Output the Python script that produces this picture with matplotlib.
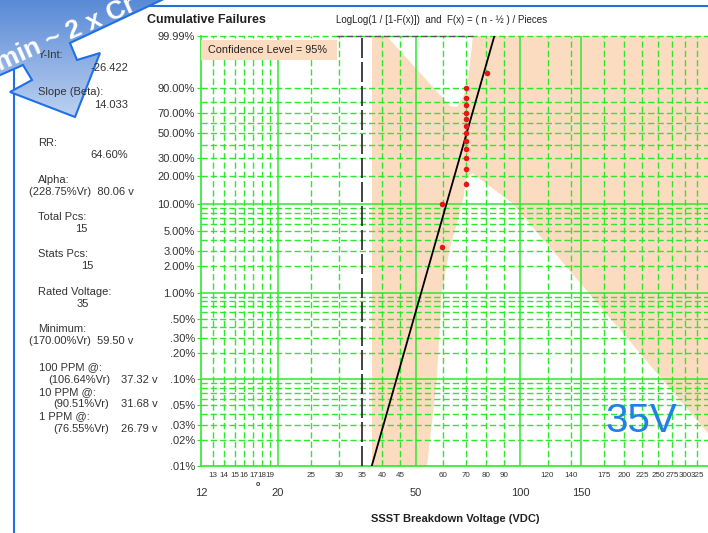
import numpy as np
import matplotlib
matplotlib.use('Agg')
import matplotlib.pyplot as plt
from matplotlib.patches import Polygon, Rectangle
from matplotlib.lines import Line2D
from matplotlib.ticker import NullLocator
from matplotlib.colors import LinearSegmentedColormap

plt.rcParams['font.family'] = ['Liberation Sans', 'DejaVu Sans']

W, H = 708, 533

# failures: breakdown voltage and plotting position F = (n - 1/2) / 15, in %
fail_volts = [59.5, 59.5, 70, 70, 70, 70, 70, 70, 70, 70, 70, 70, 70, 70, 80.1]
fail_pct = [3.33, 10.0, 16.67, 23.33, 30.0, 36.67, 43.33, 50.0, 56.67,
            63.33, 70.0, 76.67, 83.33, 90.0, 96.67]

# fitted Weibull line
fit_volts = [37.32, 84.3]
fit_pct = [0.01, 99.99]

rated_v = 35

# 95% confidence band
band_left_v = 37.3
upper_white_v = [41.2, 62.8, 65.8, 68.4, 70.2, 71.7, 73.1]
upper_white_pct = [99.99, 76.1, 75.2, 83.8, 90.7, 98.9, 99.99]
lower_white_v = [53.9, 57.5, 59.4, 62.8, 66.2, 68.9, 69.8, 72.7, 81.9, 94.8, 420]
lower_white_pct = [0.01, 0.1, 1.0, 3.3, 6.69, 12.6, 18.2, 21.4, 15.5, 10.3, 0.01]

ytick_pct = [99.99, 90, 70, 50, 30, 20, 10, 5, 3, 2, 1, 0.5, 0.3, 0.2, 0.1,
             0.05, 0.03, 0.02, 0.01]
ytick_labels = ['99.99%', '90.00%', '70.00%', '50.00%', '30.00%', '20.00%',
                '10.00%', '5.00%', '3.00%', '2.00%', '1.00%', '.50%', '.30%',
                '.20%', '.10%', '.05%', '.03%', '.02%', '.01%']
ygrid_solid = [10, 1, 0.1]
ygrid_dash = [90, 80, 70, 60, 50, 40, 30, 20, 9, 8, 7, 6, 5, 4, 3, 2,
              0.9, 0.8, 0.7, 0.6, 0.5, 0.4, 0.3, 0.2,
              0.09, 0.08, 0.07, 0.06, 0.05, 0.04, 0.03, 0.02]

xmajor = [12, 20, 50, 100, 150]
xminor = [13, 14, 15, 16, 17, 18, 19, 25, 30, 35, 40, 45, 60, 70, 80, 90,
          120, 140, 175, 200, 225, 250, 275, 300, 325]
xgrid_solid = [20, 50, 100, 150]
xgrid_dash = [13, 14, 15, 16, 17, 18, 19, 25, 30, 40, 45, 60, 70, 80, 90,
              120, 140, 175, 200, 225, 250, 275, 300, 325, 350, 375]

stats = [
    ('Y-Int:', 38, 55, 'left'), ('-26.422', 128, 68, 'right'),
    ('Slope (Beta):', 38, 92, 'left'), ('14.033', 128, 105, 'right'),
    ('RR:', 38, 143, 'left'), ('64.60%', 128, 155, 'right'),
    ('Alpha:', 38, 180, 'left'), ('(228.75%Vr)  80.06 v', 29, 192, 'left'),
    ('Total Pcs:', 38, 217, 'left'), ('15', 81, 229, 'center'),
    ('Stats Pcs:', 38, 254, 'left'), ('15', 87, 266, 'center'),
    ('Rated Voltage:', 38, 292, 'left'), ('35', 83, 304, 'center'),
    ('Minimum:', 38, 329, 'left'), ('(170.00%Vr)  59.50 v', 29, 341, 'left'),
    ('100 PPM @:', 39, 367, 'left'), ('(106.64%Vr)', 48, 380, 'left'),
    ('37.32 v', 121, 380, 'left'),
    ('10 PPM @:', 39, 392, 'left'), ('(90.51%Vr)', 53, 404, 'left'),
    ('31.68 v', 121, 404, 'left'),
    ('1 PPM @:', 39, 416, 'left'), ('(76.55%Vr)', 53, 429, 'left'),
    ('26.79 v', 121, 429, 'left'),
]

green = '#2ee82e'
peach = '#fcdcc0'
dash = (0, (4.5, 2.2))


def fx(x):
    return x / W


def fy(y):
    return 1 - y / H


def fwd(p):
    p = np.clip(np.asarray(p, dtype=float), 1e-9, 100 - 1e-9)
    return np.log(-np.log(1 - p / 100))


def inv(w):
    return 100 * (1 - np.exp(-np.exp(w)))


fig = plt.figure(figsize=(W / 100, H / 100), dpi=100)
x_left, x_right = 201, 201 + (np.log10(400) - np.log10(12)) * 346.5
ax = fig.add_axes([fx(x_left), fy(466), (x_right - x_left) / W, 430 / H])
ax.set_xscale('log')
ax.set_yscale('function', functions=(fwd, inv))
ax.set_xlim(12, 400)
ax.set_ylim(0.01, 99.99)

# confidence band: shade right of the left bound, then cut out the white parts
ax.axvspan(band_left_v, 1000, color=peach, lw=0, zorder=0.5)
ax.fill(upper_white_v, upper_white_pct, color='white', lw=0, zorder=0.6)
ax.fill(lower_white_v, lower_white_pct, color='white', lw=0, zorder=0.6)

for v in xgrid_solid:
    ax.axvline(v, color=green, lw=1.1, zorder=2)
for v in xgrid_dash:
    ax.axvline(v, color=green, lw=1.0, ls=dash, zorder=2)
for p in ygrid_solid:
    ax.axhline(p, color=green, lw=1.1, zorder=2)
for p in ygrid_dash:
    ax.axhline(p, color=green, lw=1.0, ls=dash, zorder=2)
ax.axhline(99.99, color=green, lw=1.0, ls=dash, zorder=2, clip_on=False)
ax.plot([29.6, 73], [99.99, 99.99], color='#555555', lw=1.0, ls=dash,
        zorder=2.5, clip_on=False)

ax.axvline(rated_v, color='#222222', lw=1.2, ls=(0, (12, 2.4)), zorder=3)
ax.plot(fit_volts, fit_pct, color='black', lw=1.3, zorder=4)
ax.plot(fail_volts, fail_pct, 'o', color='#e8141a', ms=4, mec='none', zorder=5)

ax.set_yticks(ytick_pct, labels=ytick_labels)
ax.yaxis.set_minor_locator(NullLocator())
ax.tick_params(axis='y', length=3, color=green, labelsize=8, pad=1.5,
               labelcolor='#333333')
ax.set_xticks(xmajor, labels=[str(v) for v in xmajor])
ax.set_xticks(xminor, labels=[str(v) for v in xminor], minor=True)
ax.tick_params(axis='x', which='major', length=0, pad=16, labelsize=8,
               labelcolor='#333333')
ax.tick_params(axis='x', which='minor', length=0, pad=4.5, labelsize=5.8,
               labelcolor='#333333')
for s in ['top', 'right']:
    ax.spines[s].set_visible(False)
for s in ['left', 'bottom']:
    ax.spines[s].set_color(green)
    ax.spines[s].set_linewidth(1.2)

fig.text(fx(455), fy(519), 'SSST Breakdown Voltage (VDC)', fontsize=8,
         fontweight='bold', ha='center', va='center', color='#222222')
fig.text(fx(147), fy(20), 'Cumulative Failures', fontsize=9, fontweight='bold',
         ha='left', va='center', color='#222222')
fig.text(fx(336), fy(20), 'LogLog(1 / [1-F(x)])  and  F(x) = ( n - \u00bd ) / Pieces',
         fontsize=7, ha='left', va='center', color='#222222')
fig.text(fx(257.8), fy(485), 'o', fontsize=5, fontweight='bold', ha='center',
         va='center', color='#333333')

# confidence level label box
fig.add_artist(Rectangle((fx(201), fy(59.5)), 136 / W, 19.5 / H,
                         transform=fig.transFigure, facecolor=peach,
                         edgecolor='none', zorder=3))
fig.text(fx(208), fy(50), 'Confidence Level = 95%', fontsize=7.8, ha='left',
         va='center', color='#222222', zorder=4)

for txt, x, y, ha in stats:
    fig.text(fx(x), fy(y), txt, fontsize=8, ha=ha, va='center',
             color='#333333', zorder=5)

fig.text(fx(641), fy(421), '35V', fontsize=29, color='#2080e8', ha='center',
         va='center', zorder=6)

# slide frame and call-out arrow
blue = '#1f6fe6'
fig.add_artist(Line2D([fx(14), fx(14)], [fy(6), fy(533)], color=blue, lw=1.5,
                      zorder=-1))
fig.add_artist(Line2D([fx(14), fx(708)], [fy(6), fy(6)], color=blue, lw=1.5,
                      zorder=-1))

arrow_px = [(-2, -2), (166, -2), (70, 43), (77, 60), (100, 53), (75, 117),
            (10, 92), (32, 80), (23, 65), (-2, 76)]
ax_a = fig.add_axes([0, fy(125), 175 / W, 125 / H], zorder=1)
ax_a.set_xlim(0, 175)
ax_a.set_ylim(125, 0)
ax_a.axis('off')
cmap = LinearSegmentedColormap.from_list('arw', ['#5a8ad6', '#c3d6f2'])
grad = np.linspace(0, 1, 64)[:, None] * np.ones((1, 4))
im = ax_a.imshow(grad, extent=[0, 175, 125, 0], cmap=cmap, aspect='auto')
arrow = Polygon(arrow_px, closed=True, facecolor='none', edgecolor=blue,
                lw=1.5, clip_on=False)
ax_a.add_patch(arrow)
im.set_clip_path(arrow)
fig.text(fx(0), fy(71), 'min ~ 2 x Cr', fontsize=19, fontweight='bold',
         color='white', rotation=24, rotation_mode='anchor', ha='left',
         va='baseline', zorder=11)

fig.savefig('out.png', dpi=100)
